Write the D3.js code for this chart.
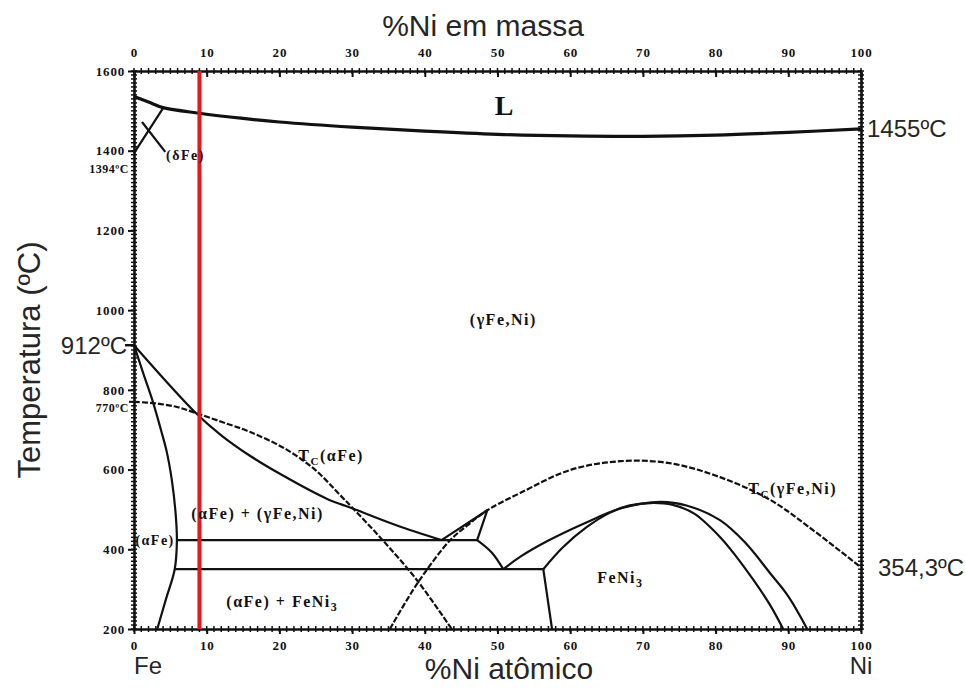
<!DOCTYPE html>
<html>
<head>
<meta charset="utf-8">
<script src="https://cdn.jsdelivr.net/npm/d3@7"></script>
<style>
  body { margin: 0; background: #fff; }
  svg { display: block; }
  .tick text { font-family: "Liberation Serif", "Times New Roman", serif; font-weight: bold; font-size: 13px; letter-spacing: 0.8px; fill: #111; }
  .phase { font-family: "Liberation Serif", "Times New Roman", serif; font-weight: bold; font-size: 16px; letter-spacing: 1.5px; fill: #111; }
  .big { font-family: "Liberation Sans", Arial, sans-serif; fill: #262626; }
</style>
</head>
<body>
<script>
// axis ticks
const xTicks = d3.range(0, 101, 10);
const tTicks = d3.range(200, 1601, 200);
const xMinor = d3.range(0, 101, 1);
const tMinor = d3.range(200, 1601, 10);

// phase boundaries, [%Ni atomic, T in C]
const liquidus = [[0,1536],[2,1522],[4,1508],[9,1494],[15,1481],[20,1472],[30,1459],[40,1449],[50,1441],[60,1437],[70,1436],[80,1439],[90,1446],[100,1455]];
const deltaLine = [[0,1394],[4,1507]];
const deltaLeader = [[1.1,1472],[4.3,1397]];
const alphaSolvus = [[0,912],[1.3,840],[2.6,770],[3.7,700],[4.5,645],[5.2,574],[5.7,495],[5.9,423],[5.6,350],[4.4,275],[3.2,200]];
const gammaSolvus = [[0,912],[8.5,742],[12,686],[16,634],[20,590],[26.5,527],[30,503],[36,461],[42.3,423]];
const joinLine = [[42.3,423],[45.5,461],[48.6,498]];
const upperIso = [[5.9,423],[47.2,423]];
const triLine = [[47.2,423],[48.6,498]];
const dropCurve = [[47.2,423],[49.2,392],[50.8,350]];
const lowerIso = [[5.6,350],[56.3,350]];
const outerDome = [[50.8,350],[53.1,381],[57,422],[62.3,468],[67,503],[72.4,519],[76,510],[80.6,473],[84,418],[87.5,340],[90,282],[92.6,200]];
const innerDome = [[56.3,350],[59,405],[62.3,456],[65.5,492],[68.2,510],[71,516],[74,512],[77,490],[80.6,431],[83,378],[85.2,323],[87.5,260],[89.3,200]];
const feni3Edge = [[56.3,350],[57.5,200]];
const tcAlpha = [[0,770],[3,766],[5.9,757],[8.5,742],[12,720],[16,694],[21,650],[25,598],[28.3,537],[30,505],[34.2,423],[38.9,323],[43.7,200]];
const tcGamma = [[35.2,200],[39,315],[43.5,423],[46,462],[48.6,498],[53.1,541],[60,599],[66.9,621],[73.7,616],[80.6,581],[87.5,524],[93.4,448],[100,354.3]];

const solidLines = [deltaLine, deltaLeader, alphaSolvus, gammaSolvus, joinLine, upperIso, triLine, dropCurve, lowerIso, outerDome, innerDome, feni3Edge];
const dashedLines = [tcAlpha, tcGamma];

const redLineAt = 9;

const W = 966, H = 692;
const svg = d3.select('body').append('svg').attr('width', W).attr('height', H);

const x = d3.scaleLinear().domain([0, 100]).range([134, 861]);
const y = d3.scaleLinear().domain([200, 1600]).range([629, 71]);

const line = d3.line().x(d => x(d[0])).y(d => y(d[1])).curve(d3.curveCatmullRom.alpha(0.5));
const straight = d3.line().x(d => x(d[0])).y(d => y(d[1]));

// minor ruler ticks on all four sides
const minor = svg.append('g').attr('stroke', '#111').attr('stroke-width', 1.5);
[y(200), y(1600)].forEach(yy => {
  minor.selectAll(null).data(xMinor).enter().append('line')
    .attr('x1', d => x(d)).attr('x2', d => x(d))
    .attr('y1', yy - 3).attr('y2', yy + 3);
});
[x(0), x(100)].forEach(xx => {
  minor.selectAll(null).data(tMinor).enter().append('line')
    .attr('y1', d => y(d)).attr('y2', d => y(d))
    .attr('x1', xx - 3).attr('x2', xx + 3);
});

// axes
const fmt = d3.format('d');
const axBottom = svg.append('g').attr('transform', `translate(0,${y(200)})`)
  .call(d3.axisBottom(x).tickValues(xTicks).tickFormat(fmt).tickSizeInner(5).tickSizeOuter(0).tickPadding(7));
const axTop = svg.append('g').attr('transform', `translate(0,${y(1600)})`)
  .call(d3.axisTop(x).tickValues(xTicks).tickFormat(fmt).tickSizeInner(-6).tickSizeOuter(0).tickPadding(14));
const axLeft = svg.append('g').attr('transform', `translate(${x(0)},0)`)
  .call(d3.axisLeft(y).tickValues(tTicks).tickFormat(fmt).tickSizeInner(6).tickSizeOuter(0).tickPadding(3));
const axRight = svg.append('g').attr('transform', `translate(${x(100)},0)`)
  .call(d3.axisRight(y).tickValues([]).tickSizeOuter(0));

[axBottom, axTop, axLeft, axRight].forEach(g => {
  g.select('.domain').attr('stroke', '#111').attr('stroke-width', 2.6);
  g.selectAll('.tick line').attr('stroke', '#111').attr('stroke-width', 2);
});

// extra temperature marks on the left axis
svg.append('line').attr('x1', x(0) - 9).attr('x2', x(0)).attr('y1', y(912)).attr('y2', y(912))
  .attr('stroke', '#111').attr('stroke-width', 2.4);
svg.append('line').attr('x1', x(0) - 5).attr('x2', x(0)).attr('y1', y(770)).attr('y2', y(770))
  .attr('stroke', '#111').attr('stroke-width', 2);

const serifSmall = sel => sel.attr('font-family', '"Liberation Serif", serif').attr('font-weight', 'bold')
  .attr('font-size', 12).attr('letter-spacing', 0.5).attr('fill', '#111').attr('text-anchor', 'end');
svg.append('text').attr('x', x(0) - 5).attr('y', y(1394) + 20).text('1394ºC').call(serifSmall);
svg.append('text').attr('x', x(0) - 5).attr('y', y(770) + 10).text('770ºC').call(serifSmall);

// phase boundaries
svg.append('path').datum(liquidus).attr('d', line)
  .attr('fill', 'none').attr('stroke', '#111').attr('stroke-width', 3.2);

svg.append('g').selectAll('path').data(solidLines).enter().append('path')
  .attr('d', d => d.length > 2 ? line(d) : straight(d))
  .attr('fill', 'none').attr('stroke', '#111').attr('stroke-width', 2.2);

svg.append('g').selectAll('path').data(dashedLines).enter().append('path')
  .attr('d', line)
  .attr('fill', 'none').attr('stroke', '#111').attr('stroke-width', 2.2)
  .attr('stroke-dasharray', '6,2');

// red composition line
svg.append('line')
  .attr('x1', x(redLineAt)).attr('x2', x(redLineAt))
  .attr('y1', y(1600)).attr('y2', y(200))
  .attr('stroke', '#e5191c').attr('stroke-width', 4);

// phase labels
function phase(txt, px, pt, anchor, size) {
  return svg.append('text').attr('class', 'phase')
    .attr('x', x(px)).attr('y', y(pt)).attr('dy', '0.35em')
    .attr('text-anchor', anchor || 'middle')
    .style('font-size', (size || 16) + 'px')
    .text(txt);
}
phase('L', 51, 1515, 'middle', 28);
phase('(γFe,Ni)', 50.8, 978);
phase('(δFe)', 4.4, 1390, 'start', 14);
phase('(αFe) + (γFe,Ni)', 17, 489);
phase('(αFe)', 2.9, 423, 'middle', 14);

const feni = phase('FeNi', 66.9, 330);
feni.append('tspan').attr('dy', 4).style('font-size', '12px').text('3');
const mix = phase('(αFe) + FeNi', 20.4, 268);
mix.append('tspan').attr('dy', 4).style('font-size', '12px').text('3');

const tcA = phase('T', 22.6, 635, 'start');
tcA.append('tspan').attr('dy', 4).style('font-size', '11px').text('C');
tcA.append('tspan').attr('dy', -4).text('(αFe)');
const tcG = phase('T', 84.5, 552, 'start');
tcG.append('tspan').attr('dy', 4).style('font-size', '11px').text('C');
tcG.append('tspan').attr('dy', -4).text('(γFe,Ni)');

// big annotations
svg.append('text').attr('class', 'big').attr('x', 483).attr('y', 36)
  .attr('text-anchor', 'middle').style('font-size', '30px').text('%Ni em massa');
svg.append('text').attr('class', 'big').attr('x', 509).attr('y', 679)
  .attr('text-anchor', 'middle').style('font-size', '30px').text('%Ni atômico');
svg.append('text').attr('class', 'big').attr('x', 134).attr('y', 674)
  .style('font-size', '24px').text('Fe');
svg.append('text').attr('class', 'big').attr('x', x(100)).attr('y', 674)
  .attr('text-anchor', 'middle').style('font-size', '24px').text('Ni');
svg.append('text').attr('class', 'big')
  .attr('transform', 'translate(40,360) rotate(-90)')
  .attr('text-anchor', 'middle').style('font-size', '31px').text('Temperatura (ºC)');
svg.append('text').attr('class', 'big').attr('x', x(0) - 7).attr('y', y(912) + 9)
  .attr('text-anchor', 'end').style('font-size', '24px').text('912ºC');
svg.append('text').attr('class', 'big').attr('x', x(100) + 6).attr('y', y(1455) + 8)
  .style('font-size', '24px').text('1455ºC');
svg.append('text').attr('class', 'big').attr('x', x(100) + 17).attr('y', y(354.3) + 8)
  .style('font-size', '24px').text('354,3ºC');
</script>
</body>
</html>
